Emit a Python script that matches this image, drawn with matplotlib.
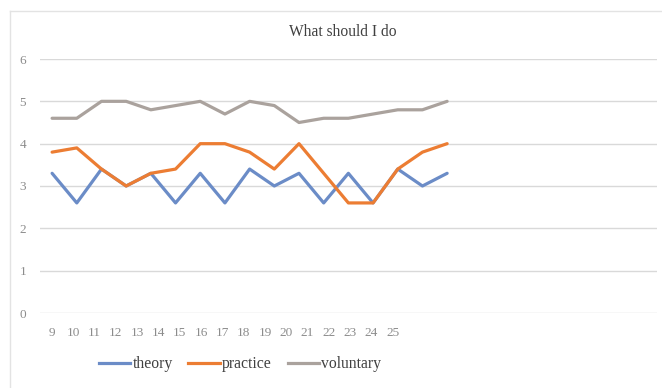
import matplotlib
matplotlib.use("Agg")
import matplotlib.pyplot as plt
from matplotlib.lines import Line2D
import numpy as np

# weekly scores
weeks = [9, 10, 11, 12, 13, 14, 15, 16, 17, 18, 19, 20, 21, 22, 23, 24, 25]
theory = [3.3, 2.6, 3.4, 3.0, 3.3, 2.6, 3.3, 2.6, 3.4, 3.0, 3.3, 2.6, 3.3, 2.6, 3.4, 3.0, 3.3]
practice = [3.8, 3.9, 3.4, 3.0, 3.3, 3.4, 4.0, 4.0, 3.8, 3.4, 4.0, 3.3, 2.6, 2.6, 3.4, 3.8, 4.0]
voluntary = [4.6, 4.6, 5.0, 5.0, 4.8, 4.9, 5.0, 4.7, 5.0, 4.9, 4.5, 4.6, 4.6, 4.7, 4.8, 4.8, 5.0]
y_ticks = [0, 1, 2, 3, 4, 5, 6]

SERIF = ["Liberation Serif", "DejaVu Serif"]
TICK_GREY = "#8c8c8c"
GRID_GREY = "#d9d9d9"
LABEL_STEP = 0.862   # category labels sit closer together than the points

W, H = 662, 388
fig = plt.figure(figsize=(W / 100, H / 100), dpi=100)
ax = fig.add_axes([40 / W, (H - 313) / H, (657 - 40) / W, (313 - 59) / H])

x = np.arange(len(weeks))
series = [
    ("theory", theory, "#6b8cc7"),
    ("practice", practice, "#ec7d33"),
    ("voluntary", voluntary, "#aaa29d"),
]
for name, vals, col in series:
    ax.plot(x, vals, color=col, lw=2.3, label=name, solid_capstyle="round", zorder=3)

ax.set_xlim(-0.49, 24.5)
ax.set_ylim(0, 6)
ax.set_yticks(y_ticks)
ax.set_yticklabels([str(v) for v in y_ticks], family=SERIF, fontsize=9.5, color=TICK_GREY)
ax.set_xticks(x * LABEL_STEP)
ax.set_xticklabels([str(w) for w in weeks], family=SERIF, fontsize=9.5, color=TICK_GREY)
ax.tick_params(axis="both", length=0)
ax.tick_params(axis="y", pad=10)
ax.tick_params(axis="x", pad=10)
ax.grid(axis="y", color=GRID_GREY, lw=1.0, zorder=0)
for s in ax.spines.values():
    s.set_visible(False)

fig.text(343 / W, 1 - 32 / H, "What should I do", family=SERIF, fontsize=11.2,
         color="#404040", ha="center", va="center")

handles = [Line2D([0], [0], color=c, lw=2.3) for _, _, c in series]
fig.legend(handles, [n for n, _, _ in series], loc="center",
           bbox_to_anchor=(240 / W, 1 - 364 / H), ncol=3, frameon=False,
           prop={"family": SERIF, "size": 11.3}, handlelength=2.0,
           handletextpad=0.15, columnspacing=1.0, labelcolor="#404040")

# chart frame: top and left edges
fig.add_artist(Line2D([10 / W, 1], [1 - 11 / H, 1 - 11 / H], color="#e3e3e3", lw=1.0,
                      transform=fig.transFigure))
fig.add_artist(Line2D([10 / W, 10 / W], [0, 1 - 11 / H], color="#e3e3e3", lw=1.0,
                      transform=fig.transFigure))

fig.savefig("out.png", dpi=100)
